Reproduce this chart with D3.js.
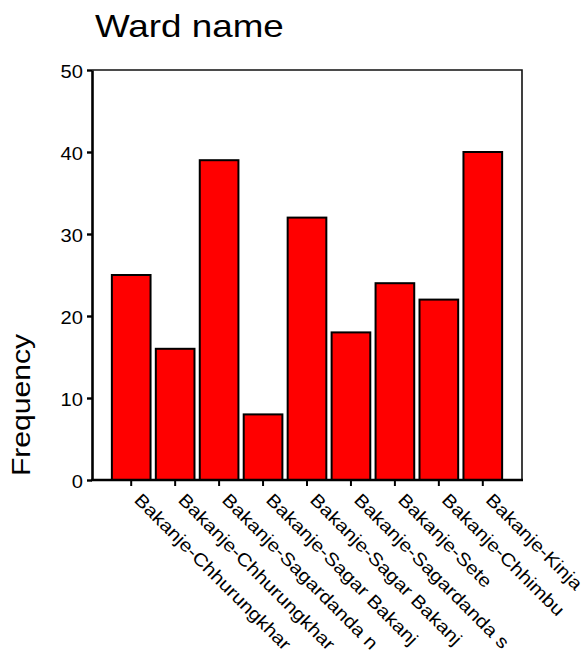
<!DOCTYPE html>
<html>
<head>
<meta charset="utf-8">
<script src="https://cdn.jsdelivr.net/npm/d3@7"></script>
<style>
  html, body { margin: 0; padding: 0; background: #fff; }
  svg { display: block; font-family: "Liberation Sans", Arial, sans-serif; }
</style>
</head>
<body>
<svg id="chart" width="587" height="655"></svg>
<script>
const categories = [
  "Bakanje-Chhurungkhar",
  "Bakanje-Chhurungkhar",
  "Bakanje-Sagardanda n",
  "Bakanje-Sagar Bakanj",
  "Bakanje-Sagar Bakanj",
  "Bakanje-Sagardanda s",
  "Bakanje-Sete",
  "Bakanje-Chhimbu",
  "Bakanje-Kinja"
];
const frequency = [25, 16, 39, 8, 32, 18, 24, 22, 40];
const yTicks = [0, 10, 20, 30, 40, 50];
const titleText = "Ward name";
const yTitle = "Frequency";

const svg = d3.select("#chart");
const stretch = 1.15;

const pLeft = 92, pRight = 522, pTop = 70, pBottom = 480;

const x = d3.scaleBand()
  .domain(d3.range(categories.length))
  .range([pLeft, pRight])
  .paddingInner(0.12)
  .paddingOuter(0.452);

const y = d3.scaleLinear().domain([0, 50]).range([pBottom, pTop]);

// frame top & right (thinner)
svg.append("path")
  .attr("d", `M${pLeft},${pTop}H${pRight}V${pBottom}`)
  .attr("fill", "none")
  .attr("stroke", "#111")
  .attr("stroke-width", 1.6);

// bars
svg.append("g").selectAll("rect")
  .data(frequency)
  .join("rect")
  .attr("x", (d, i) => x(i))
  .attr("width", x.bandwidth())
  .attr("y", d => y(d))
  .attr("height", d => y(0) - y(d))
  .attr("fill", "#ff0000")
  .attr("stroke", "#000")
  .attr("stroke-width", 2);

// y axis
const yAxis = svg.append("g")
  .attr("transform", `translate(${pLeft},0)`)
  .call(d3.axisLeft(y).tickValues(yTicks).tickSize(5).tickSizeOuter(0).tickFormat(d3.format("d")));
yAxis.select(".domain").attr("stroke", "#000").attr("stroke-width", 2.6);
yAxis.selectAll(".tick line").attr("stroke", "#000").attr("stroke-width", 2.4);
yAxis.selectAll(".tick text")
  .attr("x", 0)
  .attr("dy", "0.42em")
  .attr("transform", `translate(-9,0) scale(${stretch},1)`)
  .attr("font-size", 17.5)
  .attr("font-family", "Liberation Sans, Arial, sans-serif")
  .attr("fill", "#000");

// x axis
const xAxis = svg.append("g")
  .attr("transform", `translate(0,${pBottom})`)
  .call(d3.axisBottom(x).tickSize(6).tickSizeOuter(0).tickFormat(""));
xAxis.select(".domain").attr("stroke", "#000").attr("stroke-width", 2.6)
  .attr("d", `M${pLeft - 1},0H${pRight + 1}`);
xAxis.selectAll(".tick line").attr("stroke", "#000").attr("stroke-width", 2);
xAxis.selectAll(".tick text").remove();

// rotated category labels
svg.append("g").selectAll("text")
  .data(categories)
  .join("text")
  .attr("transform", (d, i) => `translate(${x(i) + x.bandwidth() / 2 + 2},501) rotate(45) scale(${stretch},1)`)
  .attr("text-anchor", "start")
  .attr("font-size", 18)
  .attr("fill", "#000")
  .text(d => d);

// title
svg.append("text")
  .attr("transform", `translate(95,37) scale(${stretch},1)`)
  .attr("font-size", 32)
  .attr("fill", "#000")
  .text(titleText);

// y title
svg.append("text")
  .attr("transform", `translate(30,405) rotate(-90) scale(1.18,1)`)
  .attr("text-anchor", "middle")
  .attr("font-size", 25.5)
  .attr("fill", "#000")
  .text(yTitle);
</script>
</body>
</html>
